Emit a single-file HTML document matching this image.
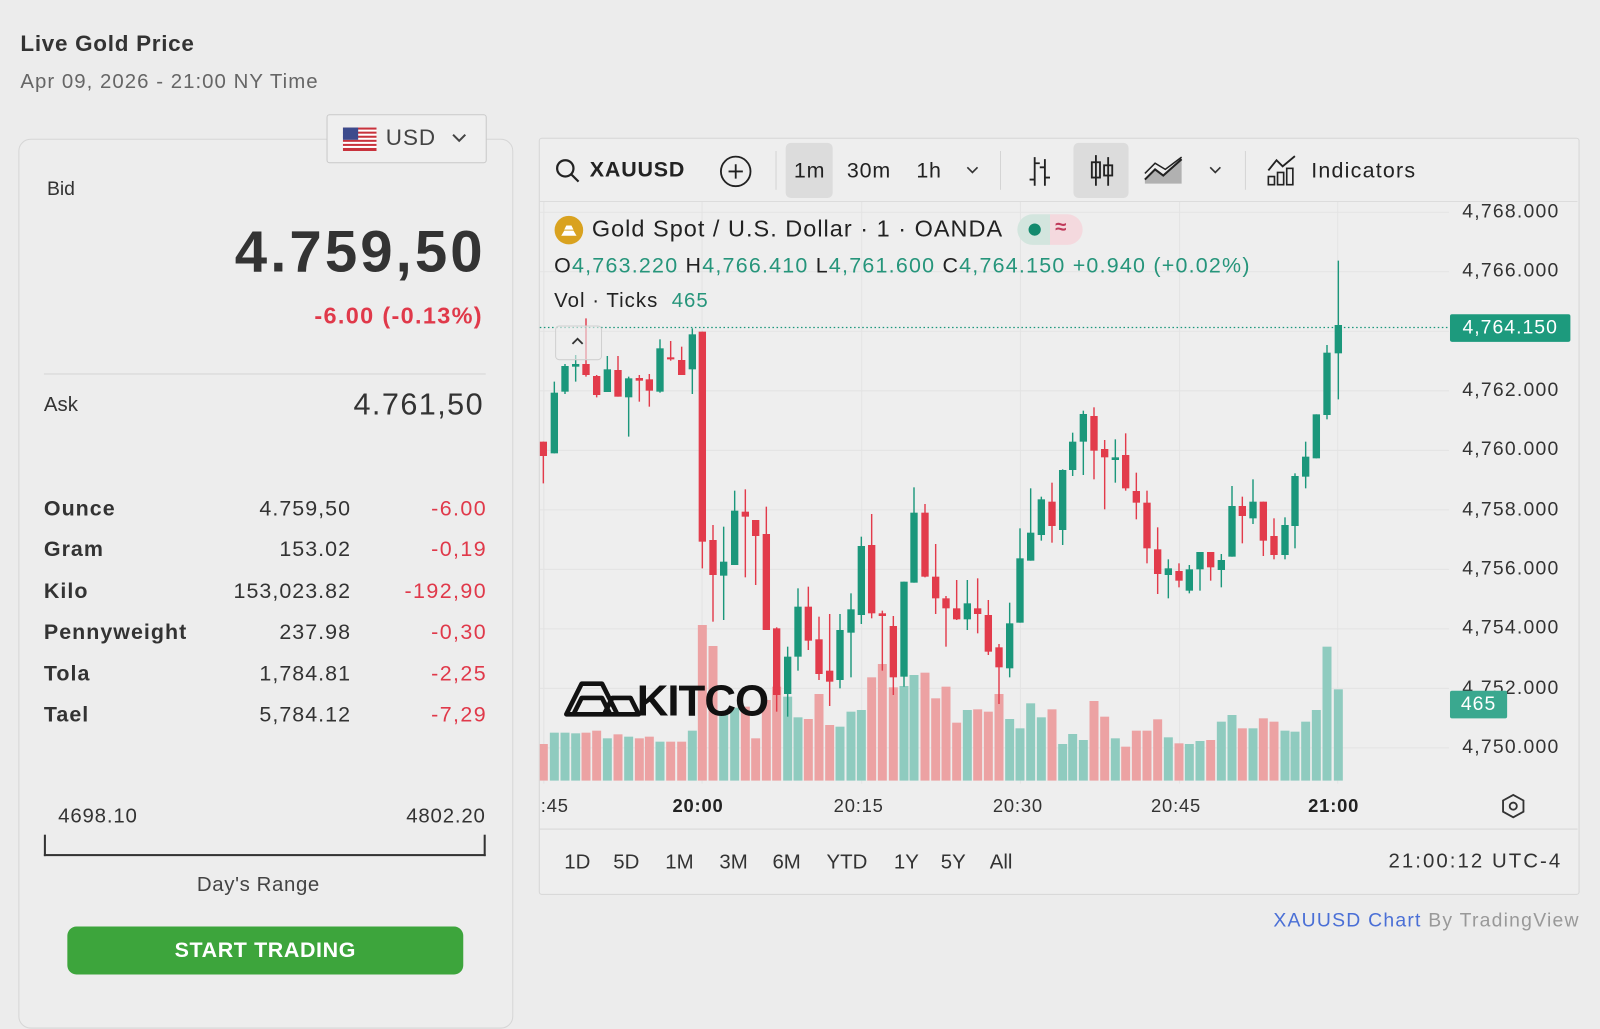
<!DOCTYPE html>
<html><head><meta charset="utf-8">
<style>
html,body{margin:0;padding:0;background:#ececec;overflow:hidden;width:1600px;height:1001px}
#w{position:absolute;left:0;top:0;width:1568px;height:981px;transform:scale(1.0204);transform-origin:0 0;font-family:"Liberation Sans",sans-serif;color:#2a2a2a}
.a{position:absolute;white-space:nowrap;line-height:1}
.r{text-align:right}
</style></head><body><div id="w">
<div class="a" style="left:20px;top:32px;font-size:22px;font-weight:bold;color:#333;letter-spacing:0.7px">Live Gold Price</div>
<div class="a" style="left:20px;top:70px;font-size:20px;color:#666;letter-spacing:1px">Apr 09, 2026 - 21:00 NY Time</div>

<div class="a" style="left:18px;top:136px;width:483px;height:870px;border:1px solid #d6d6d6;border-radius:12px;background:#ededed"></div>
<div class="a" style="left:320px;top:112px;width:155px;height:46px;border:1px solid #c9c9c9;border-radius:3px;background:#efefef"></div>
<svg class="a" style="left:336px;top:125px" width="33" height="23"><rect width="33" height="23" fill="#fff"/><g fill="#c8323c"><rect y="0" width="33" height="2"/><rect y="4" width="33" height="2"/><rect y="8" width="33" height="2"/><rect y="12" width="33" height="2"/><rect y="16" width="33" height="2"/><rect y="20" width="33" height="3"/></g><rect width="15" height="12" fill="#3c4a8c"/></svg>
<div class="a" style="left:378px;top:124px;font-size:22px;color:#444;letter-spacing:1px">USD</div>
<svg class="a" style="left:442px;top:129px" width="16" height="12"><path d="M2 3l6 6 6-6" stroke="#444" stroke-width="2" fill="none"/></svg>

<div class="a" style="left:46px;top:176px;font-size:19px;color:#333">Bid</div>
<div class="a r" style="right:1095px;top:219px;font-size:57px;font-weight:bold;color:#333;letter-spacing:3px;margin-right:-3px">4.759,50</div>
<div class="a r" style="right:1096px;top:298px;font-size:23px;font-weight:bold;color:#e0394a;letter-spacing:1.3px;margin-right:-1.3px">-6.00 (-0.13%)</div>
<div class="a" style="left:43px;top:366px;width:433px;height:1px;background:#d4d4d4"></div>
<div class="a" style="left:43px;top:387px;font-size:20px;color:#333">Ask</div>
<div class="a r" style="right:1095px;top:382px;font-size:30px;color:#333;letter-spacing:1.4px;margin-right:-1.4px">4.761,50</div>

<div id="tbl"></div>

<div class="a" style="left:57px;top:790px;font-size:20px;color:#333;letter-spacing:0.8px">4698.10</div>
<div class="a r" style="right:1092px;top:790px;font-size:20px;color:#333;letter-spacing:0.8px">4802.20</div>
<div class="a" style="left:43px;top:837px;width:433px;height:2px;background:#333"></div>
<div class="a" style="left:43px;top:818px;width:2px;height:21px;background:#333"></div>
<div class="a" style="left:474px;top:818px;width:2px;height:21px;background:#333"></div>
<div class="a" style="left:193px;top:857px;font-size:20px;color:#444;letter-spacing:0.6px">Day's Range</div>
<div class="a" style="left:66px;top:908px;width:388px;height:47px;border-radius:9px;background:#3da53c;color:#fff;font-size:21px;font-weight:bold;text-align:center;line-height:47px;letter-spacing:0.6px">START TRADING</div>

<div class="a" style="left:528px;top:135px;width:1018px;height:740px;border:1px solid #d6d6d6;border-radius:3px;background:#eeeeee"></div>
<div class="a" style="left:529px;top:197px;width:1017px;height:1px;background:#dcdcdc"></div>
<div class="a" style="left:529px;top:812px;width:1017px;height:1px;background:#d6d6d6"></div>
<div class="a" style="left:770px;top:140px;width:46px;height:54px;background:#dcdcdc;border-radius:5px"></div>
<div class="a" style="left:1052px;top:140px;width:54px;height:54px;background:#dcdcdc;border-radius:5px"></div>
<div class="a" style="left:760px;top:148px;width:1px;height:38px;background:#d4d4d4"></div>
<div class="a" style="left:980px;top:148px;width:1px;height:38px;background:#d4d4d4"></div>
<div class="a" style="left:1220px;top:148px;width:1px;height:38px;background:#d4d4d4"></div>
<svg class="a" style="left:543px;top:154px" width="28" height="28"><circle cx="11" cy="11" r="8" stroke="#222" stroke-width="2.2" fill="none"/><path d="M17 17l7 7" stroke="#222" stroke-width="2.2"/></svg>
<div class="a" style="left:578px;top:156px;width:92px;overflow:hidden;font-size:21px;font-weight:bold;color:#222;letter-spacing:0.8px">XAUUSD</div>
<svg class="a" style="left:704px;top:151px" width="34" height="34"><circle cx="17" cy="17" r="14.5" stroke="#222" stroke-width="1.8" fill="none"/><path d="M17 10v14M10 17h14" stroke="#222" stroke-width="1.8"/></svg>
<div class="a" style="left:778px;top:157px;font-size:21px;color:#222;letter-spacing:0.8px">1m</div>
<div class="a" style="left:830px;top:157px;font-size:21px;color:#222;letter-spacing:0.8px">30m</div>
<div class="a" style="left:898px;top:157px;font-size:21px;color:#222;letter-spacing:0.8px">1h</div>
<svg class="a" style="left:945px;top:161px" width="16" height="12"><path d="M3 3l5 5 5-5" stroke="#333" stroke-width="1.6" fill="none"/></svg>
<svg class="a" style="left:1005px;top:152px" width="28" height="32"><path d="M9 2v28M9 24h-5M9 8h5M19 4v26M19 12h-5M19 22h5" stroke="#222" stroke-width="1.8" fill="none"/></svg>
<svg class="a" style="left:1066px;top:150px" width="28" height="34"><path d="M8 2v30M20 4v28" stroke="#222" stroke-width="1.8"/><rect x="4" y="9" width="8" height="15" stroke="#222" stroke-width="1.8" fill="none"/><rect x="16" y="12" width="8" height="10" stroke="#222" stroke-width="1.8" fill="none"/></svg>
<svg class="a" style="left:1120px;top:152px" width="42" height="30"><path d="M2 28L2 24 12 14 20 20 38 4 38 28Z" fill="#888" opacity=".6"/><path d="M2 24L12 14 20 20 38 4" stroke="#222" stroke-width="2" fill="none"/><path d="M2 18L12 8 22 14 38 2" stroke="#222" stroke-width="1.5" fill="none"/></svg>
<svg class="a" style="left:1183px;top:161px" width="16" height="12"><path d="M3 3l5 5 5-5" stroke="#333" stroke-width="1.6" fill="none"/></svg>
<svg class="a" style="left:1240px;top:151px" width="34" height="32"><path d="M3 16l8-10 6 6 12-10" stroke="#222" stroke-width="1.8" fill="none"/><rect x="3" y="22" width="6" height="8" stroke="#222" stroke-width="1.6" fill="none"/><rect x="12" y="18" width="6" height="12" stroke="#222" stroke-width="1.6" fill="none"/><rect x="21" y="14" width="6" height="16" stroke="#222" stroke-width="1.6" fill="none"/></svg>
<div class="a" style="left:1285px;top:157px;font-size:21px;color:#222;letter-spacing:1.2px">Indicators</div>

<svg id="ch" class="a" style="left:0;top:0" width="1568" height="981"></svg>

<svg class="a" style="left:543px;top:211px" width="29" height="29"><circle cx="14.5" cy="14.5" r="14" fill="#d9a21f"/><path d="M7 20l3-5h9l3 5z M10 14l2-4h5l2 4z" fill="#fff"/></svg>
<div class="a" style="left:580px;top:213px;font-size:23px;color:#222;letter-spacing:1px">Gold Spot / U.S. Dollar · 1 · OANDA</div>
<div class="a" style="left:997px;top:210px;width:64px;height:30px;border-radius:15px;background:linear-gradient(90deg,#d3e5de 50%,#f4d9de 50%)"></div>
<div class="a" style="left:1008px;top:219px;width:12px;height:12px;border-radius:6px;background:#138a6e"></div>
<div class="a" style="left:1034px;top:213px;font-size:20px;color:#c0395a;font-weight:bold">≈</div>
<div class="a" style="left:543px;top:250px;font-size:21px;color:#222;letter-spacing:1.2px">O<span style="color:#26957b">4,763.220</span> H<span style="color:#26957b">4,766.410</span> L<span style="color:#26957b">4,761.600</span> C<span style="color:#26957b">4,764.150 +0.940 (+0.02%)</span></div>
<div class="a" style="left:543px;top:285px;font-size:20px;color:#222;letter-spacing:1px">Vol · Ticks <span style="color:#26957b">&nbsp;465</span></div>
<div class="a" style="left:544px;top:319px;width:44px;height:32px;border:1px solid #d0d0d0;border-radius:4px;background:rgba(238,238,238,.6)"></div>
<svg class="a" style="left:558px;top:328px" width="16" height="12"><path d="M3 9l5-5 5 5" stroke="#333" stroke-width="1.8" fill="none"/></svg>

<svg class="a" style="left:552px;top:664px" width="220" height="42"><path d="M3 36L18 6h20l15 30z M10 36l8-16h20l8 16z M40 36L48 20h18l8 16z" stroke="#111" stroke-width="4.5" fill="none" stroke-linejoin="round"/><text x="72" y="37" font-family="Liberation Sans" font-size="43" font-weight="bold" fill="#111" letter-spacing="-1">KITCO</text></svg>

<div id="pl"></div>
<div class="a" style="left:1421px;top:308px;width:118px;height:27px;background:#1d9a7d;border-radius:2px;color:#fff;font-size:19px;text-align:center;line-height:27px;letter-spacing:1px">4,764.150</div>
<div class="a" style="left:1421px;top:677px;width:56px;height:27px;background:#3aa88f;border-radius:2px;color:#fff;font-size:19px;text-align:center;line-height:27px;letter-spacing:1px">465</div>

<div class="a" style="left:530px;top:781px;font-size:18px;color:#333;letter-spacing:0.8px">:45</div>
<div class="a" style="left:659px;top:781px;font-size:18px;font-weight:bold;color:#222;letter-spacing:0.8px">20:00</div>
<div class="a" style="left:817px;top:781px;font-size:18px;color:#333;letter-spacing:0.8px">20:15</div>
<div class="a" style="left:973px;top:781px;font-size:18px;color:#333;letter-spacing:0.8px">20:30</div>
<div class="a" style="left:1128px;top:781px;font-size:18px;color:#333;letter-spacing:0.8px">20:45</div>
<div class="a" style="left:1282px;top:781px;font-size:18px;font-weight:bold;color:#222;letter-spacing:0.8px">21:00</div>
<svg class="a" style="left:1470px;top:777px" width="26" height="26"><path d="M13 2l10 5.5v11L13 24 3 18.5v-11z" stroke="#333" stroke-width="1.8" fill="none"/><circle cx="13" cy="13" r="3.5" stroke="#333" stroke-width="1.8" fill="none"/></svg>

<div class="a" style="left:553px;top:835px;font-size:20px;color:#333">1D</div>
<div class="a" style="left:601px;top:835px;font-size:20px;color:#333">5D</div>
<div class="a" style="left:652px;top:835px;font-size:20px;color:#333">1M</div>
<div class="a" style="left:705px;top:835px;font-size:20px;color:#333">3M</div>
<div class="a" style="left:757px;top:835px;font-size:20px;color:#333">6M</div>
<div class="a" style="left:810px;top:835px;font-size:20px;color:#333">YTD</div>
<div class="a" style="left:876px;top:835px;font-size:20px;color:#333">1Y</div>
<div class="a" style="left:922px;top:835px;font-size:20px;color:#333">5Y</div>
<div class="a" style="left:970px;top:835px;font-size:20px;color:#333">All</div>
<div class="a r" style="right:39px;top:834px;font-size:20px;color:#333;letter-spacing:2px;margin-right:-2px">21:00:12 UTC-4</div>
<div class="a r" style="right:21px;top:893px;font-size:19px;color:#999;letter-spacing:1.2px;margin-right:-1.2px"><span style="color:#4a6fd6">XAUUSD Chart</span> By TradingView</div>
</div>
<script>
(function(){
var rows=[["Ounce","4.759,50","-6.00",499],["Gram","153.02","-0,19",539],["Kilo","153,023.82","-192,90",580],["Pennyweight","237.98","-0,30",620],["Tola","1,784.81","-2,25",661],["Tael","5,784.12","-7,29",701]];
var h="";rows.forEach(function(r){var t=r[3]-11;
h+='<div class="a" style="left:43px;top:'+t+'px;font-size:21px;font-weight:bold;color:#333;letter-spacing:1px">'+r[0]+'</div>';
h+='<div class="a r" style="right:1225px;top:'+t+'px;font-size:21px;color:#333;letter-spacing:1px;margin-right:-1px">'+r[1]+'</div>';
h+='<div class="a r" style="right:1092px;top:'+t+'px;font-size:21px;color:#e0394a;letter-spacing:1.4px;margin-right:-1.4px">'+r[2]+'</div>';});
document.getElementById("tbl").innerHTML=h;
var pl=[["4,768.000",208],["4,766.000",266],["4,762.000",383],["4,760.000",441],["4,758.000",500],["4,756.000",558],["4,754.000",616],["4,752.000",675],["4,750.000",733]];
h="";pl.forEach(function(p){h+='<div class="a" style="left:1433px;top:'+(p[1]-10)+'px;font-size:19px;color:#333;letter-spacing:1.2px">'+p[0]+'</div>';});
document.getElementById("pl").innerHTML=h;
var S=1.0204,s="";
for(var k=0;k<10;k++){var y=208+k*58.33;s+='<line x1="529" x2="1420" y1="'+y+'" y2="'+y+'" stroke="#e3e3e3" stroke-width="1"/>';}
[533,688,844.5,1000,1156,1311].forEach(function(x){s+='<line x1="'+x+'" x2="'+x+'" y1="198" y2="768" stroke="#e3e3e3" stroke-width="1"/>';});
var c1=[[40,'R',605,648,605,730,1512],[73,'G',458,640,425,640,1478],[105,'G',378,455,372,462,1478],[137,'G',372,380,345,425,1480],[168,'R',372,405,235,410,1478],[200,'R',408,465,405,472,1472],[232,'G',388,456,348,456,1495],[264,'R',390,470,348,470,1483],[296,'G',415,472,410,590,1490],[328,'R',414,422,405,485,1495],[358,'R',418,452,402,500,1490],[390,'G',325,455,298,458,1505],[422,'R',352,358,303,362,1505],[455,'R',360,405,320,405,1505],[487,'G',283,388,265,462,1472],[517,'R',275,905,275,985,1155],[549,'R',900,1005,855,1145,1218],[581,'G',965,1007,860,1140,1418],[614,'G',812,975,752,975,1403],[646,'R',815,830,748,1012,1400],[677,'R',840,888,840,1035,1495],[709,'R',882,1170,800,1170,1380],[740,'R',1165,1365,1162,1415,1340],[773,'G',1250,1362,1220,1430,1370],[804,'G',1100,1250,1045,1292,1432],[835,'R',1100,1202,1040,1230,1437],[867,'R',1198,1302,1130,1320,1362],[899,'R',1292,1325,1122,1398,1455],[930,'G',1170,1320,1122,1345,1460],[963,'G',1108,1178,1060,1312,1415],[994,'G',918,1125,890,1152,1410],[1025,'R',915,1120,822,1135,1312],[1057,'R',1120,1128,1112,1292,1272],[1090,'R',1158,1312,1128,1365,1342],[1122,'G',1025,1310,1025,1340,1338],[1152,'G',818,1028,742,1028,1305],[1185,'R',818,1010,792,1012,1298],[1217,'R',1010,1075,912,1122,1375],[1248,'R',1075,1105,1068,1220,1340]];
var c2=[[50,'R',1105,1138,1020,1140,1448],[82,'G',1090,1138,1020,1170,1410],[113,'R',1105,1122,1015,1180,1408],[145,'R',1125,1235,1080,1245,1415],[177,'R',1222,1282,1212,1392,1362],[209,'G',1150,1285,1088,1312,1437],[240,'G',955,1148,865,1148,1465],[272,'G',878,962,745,962,1390],[304,'G',778,885,770,902,1432],[336,'R',785,858,728,908,1408],[368,'G',690,870,688,915,1512],[398,'G',605,690,578,708,1482],[430,'G',522,605,512,705,1500],[462,'R',528,632,502,718,1383],[494,'R',627,652,600,808,1430],[526,'G',652,660,598,728,1495],[557,'R',645,745,580,752,1520],[589,'R',753,788,698,838,1472],[621,'R',788,925,752,970,1472],[653,'R',928,1002,862,1062,1438],[685,'G',985,1005,958,1075,1492],[717,'R',993,1022,970,1042,1510],[748,'G',988,1052,975,1060,1512],[780,'G',936,988,936,1052,1503],[812,'R',936,982,936,1022,1500],[844,'G',960,990,942,1042,1445],[876,'G',798,950,738,950,1425],[907,'R',798,828,770,910,1465],[939,'G',785,835,718,852,1465],[970,'R',785,902,785,948,1435],[1002,'R',888,945,835,958,1445],[1035,'G',855,945,832,958,1472],[1065,'G',708,858,700,925,1475],[1097,'G',650,710,605,745,1445],[1129,'G',523,655,523,655,1410],[1161,'G',338,525,315,538,1220],[1195,'G',255,340,62,478,1348]];
function py(z){return (240+z/3)/S;}
var all=[];c1.forEach(function(c){all.push([(530+c[0]/3)/S].concat(c.slice(1)));});
c2.forEach(function(c){all.push([(940+c[0]/3)/S].concat(c.slice(1)));});
var vb="",cs="";
all.forEach(function(c){var x=c[0],g=c[1]=='G';
var vt=py(c[6]);vb+='<rect x="'+(x-4.4)+'" y="'+vt+'" width="8.8" height="'+(765-vt)+'" fill="'+(g?'#8fcbbf':'#eca2a3')+'"/>';
var col=g?'#1b977b':'#e23b4b';
cs+='<line x1="'+x+'" x2="'+x+'" y1="'+py(c[4])+'" y2="'+py(c[5])+'" stroke="'+col+'" stroke-width="1.4"/>';
var t=py(c[2]),b=py(c[3]);if(b-t<2)b=t+2;
cs+='<rect x="'+(x-3.6)+'" y="'+t+'" width="7.2" height="'+(b-t)+'" fill="'+col+'"/>';});
s+='<defs><clipPath id="cp"><rect x="529" y="198" width="891" height="570"/></clipPath></defs><g clip-path="url(#cp)">'+vb+cs+'</g>';
s+='<line x1="529" x2="1420" y1="321" y2="321" stroke="#1b977b" stroke-width="1.2" stroke-dasharray="1.5 2.5"/>';
document.getElementById("ch").innerHTML=s;
})();
</script>
</body></html>
